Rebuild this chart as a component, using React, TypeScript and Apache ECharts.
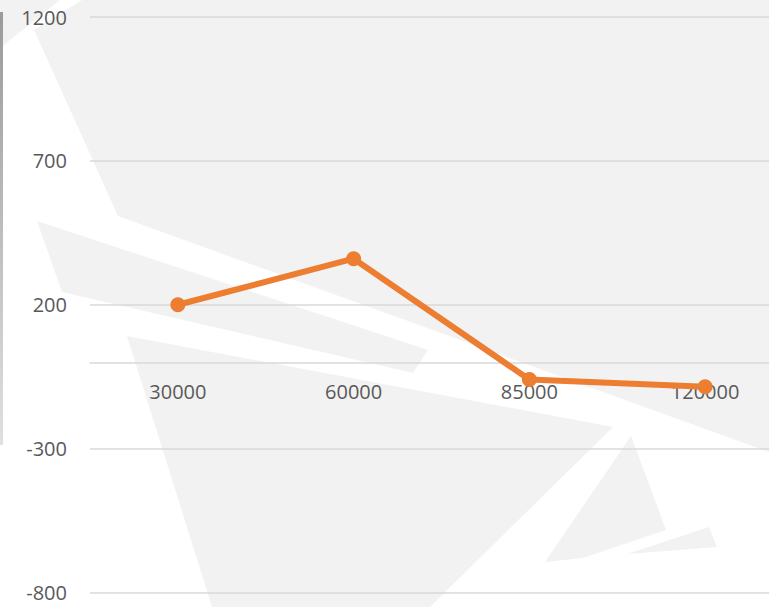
import React, { useEffect, useRef } from "react";
import * as echarts from "echarts";

const categories = ["30000", "60000", "85000", "120000"];
const values = [200, 360, -60, -85];
const yMin = -800;
const yMax = 1200;
const yInterval = 500;

const BG = "#f2f2f2";
const bgShapes: number[][][] = [
  [[0, 0], [60, 0], [0, 48]],
  [[82, 0], [769, 0], [769, 452], [118, 216], [34, 30]],
  [[37, 221], [428, 350], [413, 373], [62, 292]],
  [[127, 336], [613, 427], [430, 607], [212, 607]],
  [[631, 436], [666, 530], [583, 558], [545, 562]],
  [[627, 554], [709, 527], [717, 547]],
];

const GRID_TOP = 17;
const GRID_BOTTOM = 14.5;
const CHART_H = 607;

export default function App() {
  const ref = useRef<HTMLDivElement>(null);
  useEffect(() => {
    if (!ref.current) return;
    const chart = echarts.init(ref.current, undefined, { renderer: "svg" });
    const plotH = CHART_H - GRID_TOP - GRID_BOTTOM;
    const zeroFromBottom = (plotH * (0 - yMin)) / (yMax - yMin);
    const graphics: any[] = bgShapes.map((pts) => ({
      type: "polygon",
      silent: true,
      z: -10,
      shape: { points: pts },
      style: { fill: BG },
    }));
    graphics.push({
      type: "rect",
      silent: true,
      z: -9,
      shape: { x: 0, y: 12, width: 3, height: 433 },
      style: {
        fill: new echarts.graphic.LinearGradient(0, 0, 0, 1, [
          { offset: 0, color: "#9a9a9a" },
          { offset: 1, color: "#e0e0e0" },
        ]),
      },
    });
    chart.setOption({
      animation: false,
      backgroundColor: "#ffffff",
      graphic: graphics,
      grid: {
        left: 90,
        right: -24,
        top: GRID_TOP,
        bottom: GRID_BOTTOM,
        containLabel: false,
        outerBoundsMode: "none",
      },
      xAxis: {
        type: "category",
        data: categories,
        boundaryGap: true,
        position: "bottom",
        offset: -zeroFromBottom,
        axisLine: { show: true, onZero: false, lineStyle: { color: "#d9d9d9", width: 1.5 } },
        axisTick: { show: false },
        axisLabel: {
          color: "#595959",
          fontFamily: "Open Sans",
          fontSize: 20,
          margin: 19,
        },
        splitLine: { show: false },
      },
      yAxis: {
        type: "value",
        min: yMin,
        max: yMax,
        interval: yInterval,
        axisLine: { show: false },
        axisTick: { show: false },
        axisLabel: {
          color: "#595959",
          fontFamily: "Open Sans",
          fontSize: 20,
          margin: 23,
          formatter: (v: number) => String(v),
        },
        splitLine: { show: true, lineStyle: { color: "#d9d9d9", width: 1.5 } },
      },
      series: [
        {
          type: "line",
          data: values,
          symbol: "circle",
          symbolSize: 15,
          lineStyle: { color: "#ED7D31", width: 6 },
          itemStyle: { color: "#ED7D31" },
          z: 5,
        },
      ],
    });
    return () => chart.dispose();
  }, []);
  return (
    <div
      ref={ref}
      style={{ position: "fixed", left: 0, top: 0, width: 769, height: 607 }}
    />
  );
}
